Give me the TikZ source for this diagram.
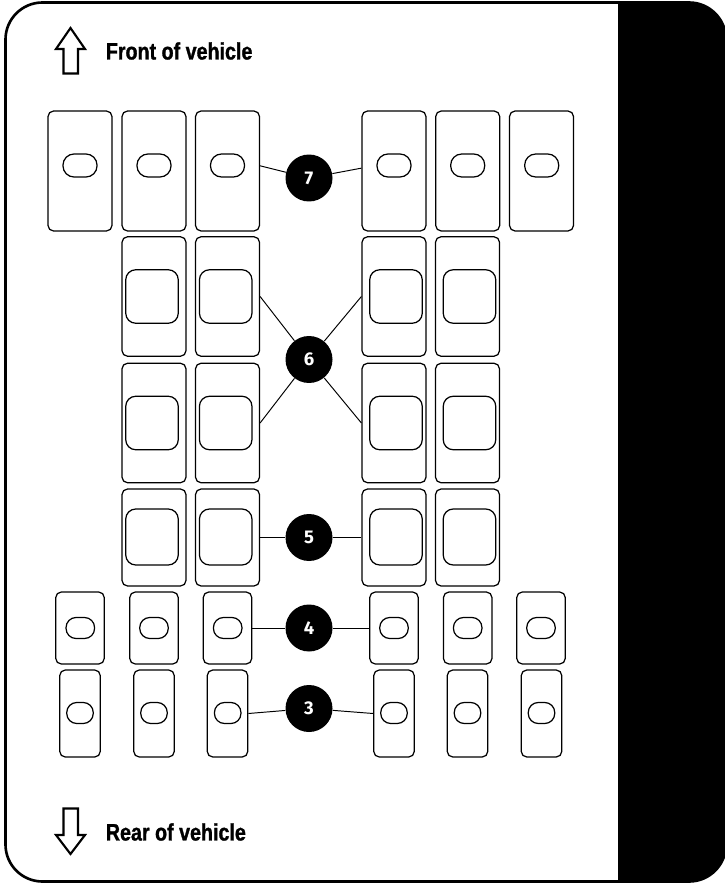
\documentclass[tikz,border=0pt]{standalone}
\usepackage{fontspec}
\usepackage{tikz}
\usetikzlibrary{calc,positioning}
\newfontfamily\sidefont{Liberation Sans Bold}[FakeStretch=0.83,FakeBold=1.2]
\newfontfamily\numfont{Fira Sans}

\tikzset{
  seatbase/.style={draw,rounded corners=0.11cm,line width=0.7pt,inner sep=0pt},
  seatA/.style={seatbase,minimum width=1.28cm,minimum height=2.4cm},
  seatB/.style={seatbase,minimum width=1.28cm,minimum height=2.39cm},
  seatD/.style={seatbase,minimum width=1.28cm,minimum height=1.94cm},
  seatE/.style={seatbase,minimum width=0.97cm,minimum height=1.44cm},
  seatF/.style={seatbase,minimum width=0.81cm,minimum height=1.74cm},
  holeA/.style={draw,rounded corners=0.22cm,line width=0.7pt,minimum width=0.68cm,minimum height=0.46cm,inner sep=0pt},
  holeB/.style={draw,rounded corners=0.2cm,line width=0.7pt,minimum width=1.05cm,minimum height=1.07cm,inner sep=0pt},
  holeD/.style={draw,rounded corners=0.2cm,line width=0.7pt,minimum width=1.05cm,minimum height=1.12cm,inner sep=0pt},
  holeE/.style={draw,rounded corners=0.2cm,line width=0.7pt,minimum width=0.57cm,minimum height=0.42cm,inner sep=0pt},
  holeF/.style={draw,rounded corners=0.2cm,line width=0.7pt,minimum width=0.53cm,minimum height=0.42cm,inner sep=0pt},
  callout/.style={circle,fill=black,text=white,minimum size=0.94cm,inner sep=0pt,
        font=\numfont\bfseries\fontsize{10.5}{12}\selectfont},
  leader/.style={line width=0.55pt},
  bigarrow/.style={draw,line width=1.2pt,miter limit=10},
  sidetext/.style={anchor=west,inner sep=0pt,font=\sidefont\fontsize{13.5}{16}\selectfont}
}

\begin{document}
\begin{tikzpicture}[x=0.02cm,y=-0.02cm]
  \useasboundingbox (0,0) rectangle (724,888);
  % 外框与右侧黑条
  \fill[black,rounded corners=0.76cm] (618,2) -- (726,2) -- (726,882) [sharp corners] -- (618,882) -- cycle;
  \draw[line width=1.5pt,rounded corners=0.74cm] (5.5,2.5) rectangle (726,881.5);

  % 箭头与说明文字
  \draw[bigarrow] (70.5,28) -- (85,49) -- (78,49) -- (78,73.5) -- (63.5,73.5) -- (63.5,49) -- (56,49) -- cycle;
  \node[sidetext] (front) at (105.5,51) {Front of vehicle};
  \draw[bigarrow] (70.5,854) -- (85,835) -- (78,835) -- (78,808.5) -- (63.5,808.5) -- (63.5,835) -- (56,835) -- cycle;
  \node[sidetext] (rear) at (105.5,832) {Rear of vehicle};

  % 第一排
  \node[seatA] (A1) at (80,171) {};    \node[holeA] (A1i) at (80,165.5) {};
  \node[seatA] (A2) at (154,171) {};   \node[holeA] (A2i) at (154,165.5) {};
  \node[seatA] (A3) at (227.5,171) {}; \node[holeA] (A3i) at (227.5,165.5) {};
  \node[seatA] (A4) at (394,171) {};   \node[holeA] (A4i) at (394,165.5) {};
  \node[seatA] (A5) at (467.7,171) {}; \node[holeA] (A5i) at (467.7,165.5) {};
  \node[seatA] (A6) at (541.5,171) {}; \node[holeA] (A6i) at (541.7,165.5) {};
  % 第二排
  \node[seatB] (B1) at (154,296.5) {};   \node[holeB] (B1i) at (152,296.5) {};
  \node[seatB] (B2) at (227.5,296.5) {}; \node[holeB] (B2i) at (225.7,296.5) {};
  \node[seatB] (B3) at (394,296.5) {};   \node[holeB] (B3i) at (396,296.5) {};
  \node[seatB] (B4) at (467.5,296.5) {}; \node[holeB] (B4i) at (469.5,296.5) {};
  % 第三排
  \node[seatB] (C1) at (154,423) {};   \node[holeB] (C1i) at (152,423) {};
  \node[seatB] (C2) at (227.5,423) {}; \node[holeB] (C2i) at (225.7,423) {};
  \node[seatB] (C3) at (394,423) {};   \node[holeB] (C3i) at (396,423) {};
  \node[seatB] (C4) at (467.5,423) {}; \node[holeB] (C4i) at (469.5,423) {};
  % 第四排
  \node[seatD] (D1) at (154,537.5) {};   \node[holeD] (D1i) at (152,537) {};
  \node[seatD] (D2) at (227.5,537.5) {}; \node[holeD] (D2i) at (225.7,537) {};
  \node[seatD] (D3) at (394,537.5) {};   \node[holeD] (D3i) at (396,537) {};
  \node[seatD] (D4) at (467.5,537.5) {}; \node[holeD] (D4i) at (469.5,537) {};
  % 第五排
  \node[seatE] (E1) at (80,628) {};    \node[holeE] (E1i) at (80.3,628) {};
  \node[seatE] (E2) at (154,628) {};   \node[holeE] (E2i) at (154,628) {};
  \node[seatE] (E3) at (227.5,628) {}; \node[holeE] (E3i) at (227.7,628) {};
  \node[seatE] (E4) at (394,628) {};   \node[holeE] (E4i) at (394,628) {};
  \node[seatE] (E5) at (467.7,628) {}; \node[holeE] (E5i) at (467.7,628) {};
  \node[seatE] (E6) at (541,628) {};   \node[holeE] (E6i) at (541,628) {};
  % 第六排
  \node[seatF] (F1) at (80,713.5) {};    \node[holeF] (F1i) at (80,713) {};
  \node[seatF] (F2) at (154,713.5) {};   \node[holeF] (F2i) at (154,713) {};
  \node[seatF] (F3) at (227.5,713.5) {}; \node[holeF] (F3i) at (227.7,713) {};
  \node[seatF] (F4) at (394,713.5) {};   \node[holeF] (F4i) at (394,713) {};
  \node[seatF] (F5) at (467.5,713.5) {}; \node[holeF] (F5i) at (467.5,713) {};
  \node[seatF] (F6) at (541.5,713.5) {}; \node[holeF] (F6i) at (541.5,713) {};

  % 编号圆
  \node[callout] (n7) at (309,178) {7};
  \node[callout] (n6) at (309,359.5) {6};
  \node[callout] (n5) at (309,537.5) {5};
  \node[callout] (n4) at (309,628) {4};
  \node[callout] (n3) at (309,708.5) {3};

  % 引线
  \draw[leader] (A3.9) -- (n7);
  \draw[leader] (A4.175) -- (n7);
  \draw[leader] (B2.east) -- (n6);
  \draw[leader] (C2.east) -- (n6);
  \draw[leader] (B3.west) -- (n6);
  \draw[leader] (C3.west) -- (n6);
  \draw[leader] (D2.east) -- (n5);
  \draw[leader] (D3.west) -- (n5);
  \draw[leader] (E3.east) -- (n4);
  \draw[leader] (E4.west) -- (n4);
  \draw[leader] (F3.east) -- (n3);
  \draw[leader] (F4.west) -- (n3);
\end{tikzpicture}
\end{document}
